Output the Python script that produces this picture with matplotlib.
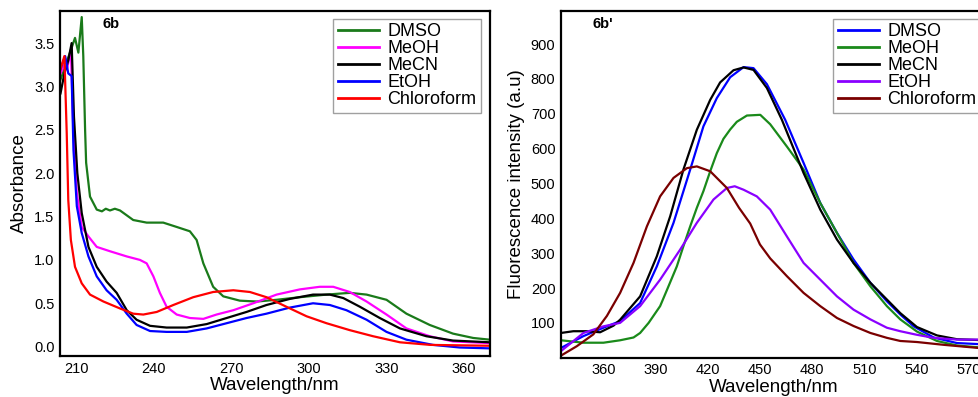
import matplotlib
matplotlib.use("Agg")
import matplotlib.pyplot as plt
import numpy as np

plt.rcParams['font.family'] = ['Liberation Sans', 'DejaVu Sans']

# ---------------- Panel 6b : absorbance ----------------
abs_labels = ["DMSO", "MeOH", "MeCN", "EtOH", "Chloroform"]
abs_colors = ["#1a7a1a", "#ff00ff", "#000000", "#0000ff", "#ff0000"]

dmso_x = [204, 206, 208, 209.6, 210.9, 212.2, 212.8, 213.5, 213.9, 215.4, 218, 220, 221.5, 223.1, 225, 227,
          232.1, 237.3, 243.7, 248.9, 254, 256.6, 259.2, 263, 266.9, 273.3, 279.8, 287.5, 296.5,
          306.8, 315.8, 322.3, 330, 337.7, 346.7, 355.7, 363.5, 370]
dmso_y = [3.08, 3.25, 3.42, 3.56, 3.39, 3.80, 3.35, 2.5, 2.12, 1.73, 1.58, 1.56, 1.59, 1.57, 1.59, 1.57,
          1.46, 1.43, 1.43, 1.38, 1.33, 1.23, 0.96, 0.69, 0.58, 0.53, 0.52, 0.54, 0.57,
          0.60, 0.62, 0.60, 0.54, 0.38, 0.25, 0.15, 0.10, 0.08]

meoh_x = [204, 205.5, 206.5, 208, 209, 210.3, 212.2, 214.8, 218, 223.1, 229.6, 234.7, 237.3, 239.9,
          242.4, 245, 248.9, 254, 259.2, 264.3, 270.8, 278.5, 287.5, 296.5, 304.2, 309.4, 315.8,
          322.3, 330, 337.7, 346.7, 355.7, 370]
meoh_y = [3.15, 3.25, 3.2, 3.42, 2.46, 1.77, 1.38, 1.27, 1.15, 1.10, 1.04, 1.00, 0.96, 0.81,
          0.62, 0.46, 0.37, 0.33, 0.32, 0.37, 0.42, 0.50, 0.60, 0.66, 0.69, 0.69, 0.63,
          0.52, 0.37, 0.21, 0.12, 0.06, 0.04]

mecn_x = [204, 205.5, 207, 208.3, 209.2, 210.5, 212.2, 214.8, 218, 221.8, 225.7, 229.6, 233.4,
          238.6, 245, 252.8, 260.5, 268.2, 275.9, 283.6, 292.6, 301.6, 308.1, 313.3, 319.7,
          327.4, 335.2, 345.4, 355.7, 370]
mecn_y = [2.92, 3.15, 3.3, 3.5, 2.65, 2.0, 1.54, 1.15, 0.92, 0.75, 0.62, 0.42, 0.31,
          0.24, 0.22, 0.22, 0.26, 0.33, 0.40, 0.48, 0.55, 0.60, 0.60, 0.56, 0.46,
          0.33, 0.21, 0.12, 0.07, 0.05]

etoh_x = [204, 205.8, 207, 208.3, 209, 210.3, 212.2, 214.8, 218, 221.8, 225.7, 229.6, 233.4,
          238.6, 245, 252.8, 260.5, 268.2, 275.9, 283.6, 292.6, 301.6, 308.1, 314.5, 322.3,
          330, 337.7, 348, 358.3, 370]
etoh_y = [3.2, 3.35, 3.15, 3.12, 2.27, 1.62, 1.31, 1.04, 0.81, 0.65, 0.54, 0.38, 0.25,
          0.18, 0.17, 0.17, 0.21, 0.27, 0.33, 0.38, 0.45, 0.50, 0.48, 0.42, 0.31,
          0.17, 0.08, 0.02, -0.01, -0.02]

chcl3_x = [204, 205.5, 206.4, 207, 208, 209.6, 212.2, 215.4, 220.6, 227, 232.1, 236, 241.2, 247.6,
           255.3, 263, 270.8, 277.2, 283.6, 291.3, 299.1, 306.8, 315.8, 324.8, 335.2, 347, 370]
chcl3_y = [3.2, 3.35, 2.46, 1.69, 1.23, 0.92, 0.73, 0.60, 0.52, 0.44, 0.38, 0.37, 0.40, 0.48,
           0.57, 0.63, 0.65, 0.63, 0.57, 0.46, 0.35, 0.27, 0.19, 0.12, 0.05, 0.02, 0.01]

# ---------------- Panel 6b' : fluorescence ----------------
fl_labels = ["DMSO", "MeOH", "MeCN", "EtOH", "Chloroform"]
fl_colors = ["#0000ff", "#1a8a1a", "#000000", "#8a00ff", "#7a0000"]

f_dmso_x = [335.6, 348.5, 360, 369.6, 381.1, 390.7, 400.3, 409.9, 417.5, 425.2, 432.9, 440.6, 446.3,
            454, 464.5, 475.1, 484.7, 494.3, 503.8, 513.5, 523, 530.7, 538.4, 549.9, 563.3, 580]
f_dmso_y = [28, 62, 86, 105, 157, 262, 387, 540, 664, 745, 805, 834, 831,
            785, 683, 559, 444, 358, 282, 215, 162, 124, 90, 58, 42, 38]

f_meoh_x = [335.6, 348.5, 360, 369.6, 377.3, 381.1, 386, 392.6, 397, 402.2, 406, 409.9, 413.7,
            417.5, 421.4, 425.2, 429, 432.9, 436.7, 442.5, 450.2, 455.9, 465.5, 475.1, 484.7,
            494.3, 503.8, 513.5, 523, 530.7, 540.3, 551.8, 563.3, 580]
f_meoh_y = [50, 43, 43, 50, 58, 71, 100, 148, 200, 262, 320, 377, 430,
            478, 535, 587, 628, 655, 677, 695, 697, 670, 606, 540, 444,
            358, 272, 205, 148, 110, 75, 48, 35, 28]

f_mecn_x = [335.6, 342.7, 350.4, 358.1, 365.8, 369.6, 381.1, 390.7, 398.4, 406, 413.7, 421.4, 427.1,
            434.8, 440.6, 446.3, 454, 462.6, 475.1, 484.7, 494.3, 503.8, 513.5, 523, 530.7,
            540.3, 551.8, 563.3, 580]
f_mecn_y = [71, 76, 76, 73, 92, 109, 176, 291, 406, 540, 654, 740, 790,
            825, 833, 826, 774, 683, 530, 425, 339, 272, 215, 167, 128,
            88, 64, 53, 50]

f_etoh_x = [335.6, 348.5, 360, 369.6, 381.1, 392.6, 404.1, 413.7, 423.3, 431, 435.5, 440.6, 448.2,
            455.9, 465.5, 475.1, 484.7, 494.3, 503.8, 513.5, 523, 530.7, 540, 549.9, 563.3, 580]
f_etoh_y = [19, 71, 90, 100, 148, 224, 310, 387, 454, 487, 492, 482, 463,
            425, 348, 272, 224, 176, 138, 110, 86, 76, 66, 57, 52, 52]

f_chcl3_x = [335.6, 344.7, 354.2, 362, 369.6, 377.3, 385, 392.6, 400.3, 408, 413.7, 421.4,
             431, 438, 444.4, 450, 455.9, 465.5, 475.1, 484.7, 494.3, 503.8, 513.5, 523,
             530.7, 540.3, 555.6, 580]
f_chcl3_y = [6, 33, 67, 120, 186, 272, 377, 463, 516, 544, 549, 535,
             487, 430, 385, 325, 285, 234, 186, 148, 114, 91, 71, 57,
             48, 45, 37, 26]

W, H = 979, 397
fig = plt.figure(figsize=(W / 100, H / 100), dpi=100)

def px_axes(l, r, t, b):
    return [l / W, 1 - b / H, (r - l) / W, (b - t) / H]

ax1 = fig.add_axes(px_axes(60, 490, 11, 356))
ax2 = fig.add_axes(px_axes(561, 986, 11, 357.7))

abs_series = [(dmso_x, dmso_y), (meoh_x, meoh_y), (mecn_x, mecn_y), (etoh_x, etoh_y), (chcl3_x, chcl3_y)]
for (x, y), c, lab in zip(abs_series, abs_colors, abs_labels):
    ax1.plot(x, y, color=c, lw=1.6, label=lab)

fl_series = [(f_dmso_x, f_dmso_y), (f_meoh_x, f_meoh_y), (f_mecn_x, f_mecn_y),
             (f_etoh_x, f_etoh_y), (f_chcl3_x, f_chcl3_y)]
for (x, y), c, lab in zip(fl_series, fl_colors, fl_labels):
    ax2.plot(x, y, color=c, lw=1.6, label=lab)

ax1.set_xlim(203.8, 370)
ax1.set_ylim(-0.108, 3.87)
ax1.set_xticks([210, 240, 270, 300, 330, 360])
ax1.set_yticks(np.arange(0, 3.51, 0.5))
ax1.set_yticklabels([f"{v:.1f}" for v in np.arange(0, 3.51, 0.5)])
ax1.set_xlabel("Wavelength/nm", fontsize=13.5, labelpad=1)
ax1.set_ylabel("Absorbance", fontsize=13.5, labelpad=4)
ax1.text(0.098, 0.962, "6b", transform=ax1.transAxes, fontsize=10.5, fontweight='bold', va='center')

ax2.set_xlim(335.6, 580)
ax2.set_ylim(0, 995)
ax2.set_xticks([360, 390, 420, 450, 480, 510, 540, 570])
ax2.set_yticks([100, 200, 300, 400, 500, 600, 700, 800, 900])
ax2.set_xlabel("Wavelength/nm", fontsize=13.5, labelpad=1)
ax2.set_ylabel("Fluorescence intensity (a.u)", fontsize=13.5, labelpad=4)
ax2.text(0.075, 0.962, "6b'", transform=ax2.transAxes, fontsize=10.5, fontweight='bold', va='center')

for ax in (ax1, ax2):
    for s in ax.spines.values():
        s.set_linewidth(1.6)
    ax.tick_params(length=0, labelsize=10.5, pad=4)

leg_kw = dict(loc='upper left', fontsize=13, frameon=True, fancybox=False, handlelength=2.3,
              handletextpad=0.45, labelspacing=0.0, borderpad=0.25, borderaxespad=0)
l1 = ax1.legend(bbox_to_anchor=(0.635, 0.977), **leg_kw)
l2 = ax2.legend(bbox_to_anchor=(0.64, 0.977), **leg_kw)
for l in (l1, l2):
    l.get_frame().set_edgecolor('#888888')
    l.get_frame().set_linewidth(1.0)
    for ln in l.get_lines():
        ln.set_linewidth(2.0)

fig.savefig("out.png", dpi=100)
